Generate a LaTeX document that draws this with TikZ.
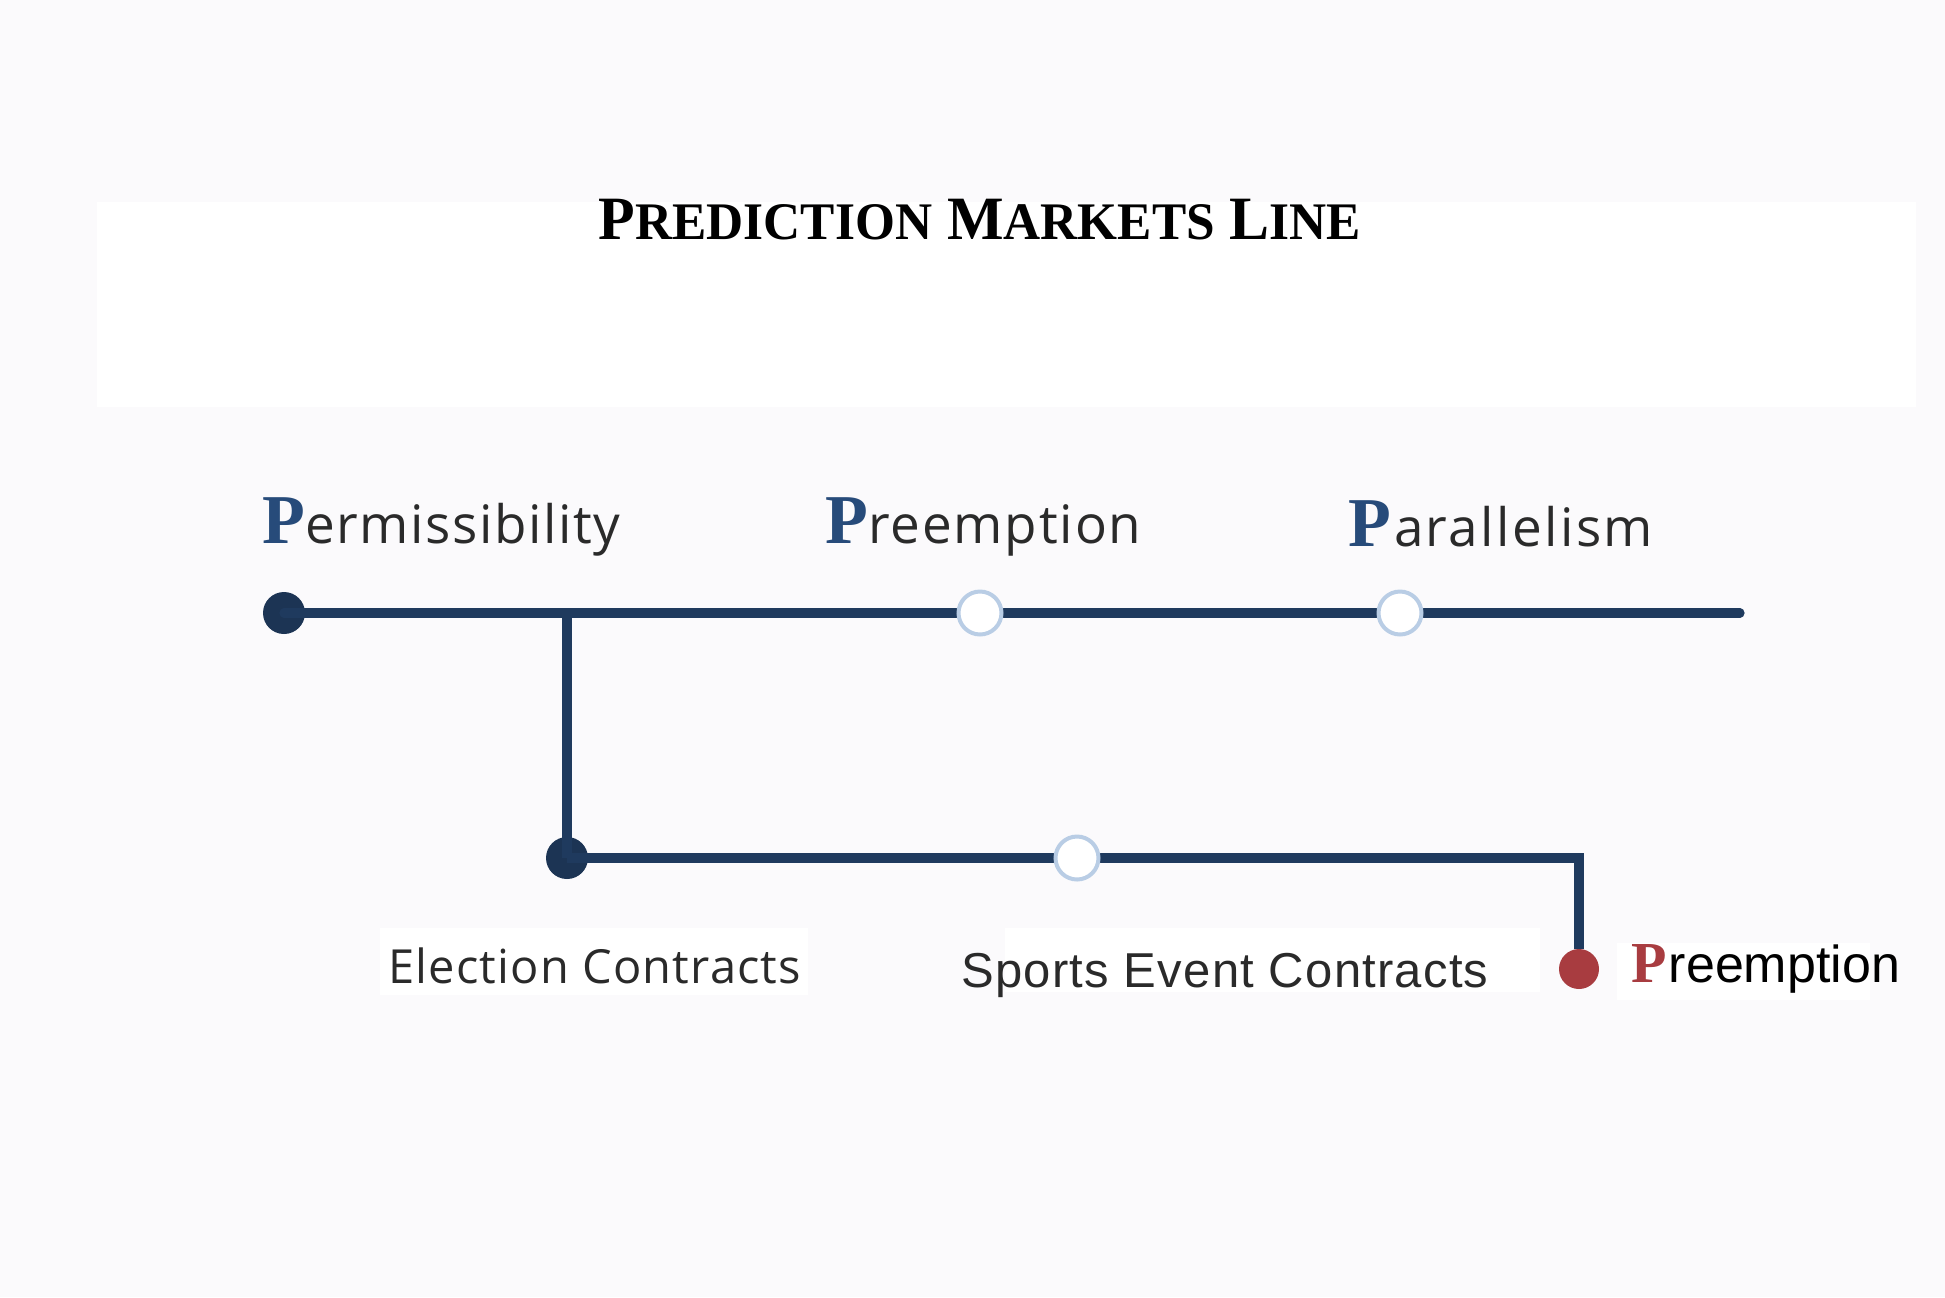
\documentclass[tikz,border=0pt]{standalone}
\usepackage{fontspec}
\setmainfont{Liberation Serif}
\newfontfamily\osans{Open Sans}
\newfontfamily\lsans{Liberation Sans}
\newfontfamily\lserif{Liberation Serif}
\definecolor{bgc}{HTML}{FBFAFC}
\definecolor{navy}{HTML}{1F3A5E}
\definecolor{dotnavy}{HTML}{1C3454}
\definecolor{ringblue}{HTML}{B9CDE5}
\definecolor{pblue}{HTML}{274B7A}
\definecolor{pred}{HTML}{A83C40}
\definecolor{txt}{HTML}{2A2A2A}
\tikzset{
  railline/.style={draw=navy, line width=4.6pt},
  fulldot/.style={circle, fill=dotnavy, minimum size=21pt, inner sep=0pt},
  opendot/.style={circle, draw=ringblue, fill=white, line width=2pt, minimum size=21.5pt, inner sep=0pt},
  reddot/.style={circle, fill=pred, minimum size=20pt, inner sep=0pt},
  toplabel/.style={anchor=base west, inner sep=0pt, text=txt},
  panel/.style={fill=white, draw=none}
}
\newcommand{\bigP}[1]{{\lserif\bfseries\color{#1}\fontsize{35pt}{35pt}\selectfont P}}
\begin{document}
\begin{tikzpicture}[x=0.5pt,y=-0.5pt]
\useasboundingbox (0,0) rectangle (1945,1297);
\fill[bgc] (0,0) rectangle (1945,1297);
% title panel
\fill[panel] (97,202) rectangle (1916,407);
\node[anchor=base, inner sep=0pt] (title) at (980,239)
  {\scalebox{1.07}[1.1]{\lserif\bfseries\fontsize{28pt}{28pt}\selectfont P{\fontsize{24pt}{24pt}\selectfont REDICTION} M{\fontsize{24pt}{24pt}\selectfont ARKETS} L{\fontsize{24pt}{24pt}\selectfont INE}}};
% white label panels
\fill[panel] (380,928) rectangle (808,995);
\fill[panel] (1005,928) rectangle (1540,992);
\fill[panel] (1617,943) rectangle (1870,1000);
% nodes
\node[fulldot] (perm) at (284,613) {};
\coordinate (mainend) at (1740,613);
\coordinate (branch) at (567,613);
\node[fulldot] (elec) at (567,858) {};
\coordinate (corner) at (1579,858);
\node[reddot] (red) at (1579,969) {};
% lines
\draw[railline, line cap=round] (perm.center) -- (mainend);
\draw[railline] (branch) -- (elec.center);
\draw[railline] (elec.center) -- (corner) -- (red.north);
\node[opendot] (pre) at (980,613) {};
\node[opendot] (par) at (1400,613) {};
\node[opendot] (spo) at (1077,858) {};
% labels
\node[toplabel] (lperm) at (262,543) {\bigP{pblue}{\osans\addfontfeature{LetterSpace=3}\fontsize{26.5pt}{30pt}\selectfont ermissibility}};
\node[toplabel] (lpre) at (825,543) {\bigP{pblue}{\osans\addfontfeature{LetterSpace=3.5}\fontsize{26.5pt}{30pt}\selectfont reemption}};
\node[toplabel] (lpar) at (1348,546) {\bigP{pblue}\hspace{1.5pt}{\osans\addfontfeature{LetterSpace=4.5}\fontsize{26.5pt}{30pt}\selectfont arallelism}};
\node[toplabel] (lelec) at (388,983) {\osans\addfontfeature{LetterSpace=2.5}\fontsize{23.5pt}{28pt}\selectfont Election Contracts};
\node[toplabel] (lspo) at (961,987) {\lsans\addfontfeature{LetterSpace=2.5}\fontsize{24.5pt}{28pt}\selectfont Sports Event Contracts};
\node[toplabel, text=black] (lred) at (1631,982) {{\lserif\bfseries\color{pred}\fontsize{29pt}{29pt}\selectfont P}\hspace{1pt}{\lsans\fontsize{26pt}{28pt}\selectfont reemption}};
\end{tikzpicture}
\end{document}
